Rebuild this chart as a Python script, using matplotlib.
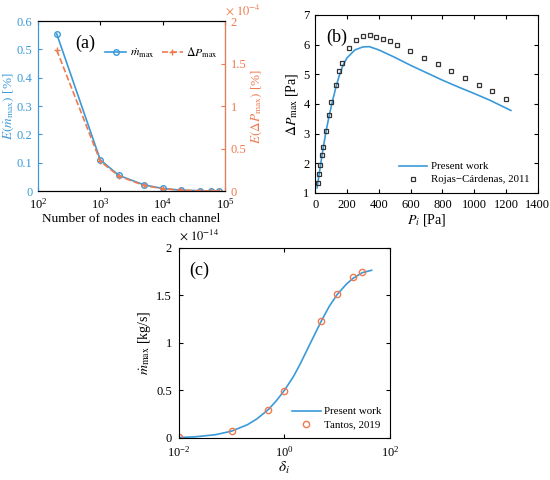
import matplotlib
matplotlib.use('Agg')
import matplotlib.pyplot as plt
from matplotlib.ticker import FixedLocator, NullLocator

plt.rcParams['font.family'] = ['Liberation Serif', 'DejaVu Serif']
plt.rcParams['mathtext.fontset'] = 'stix'
plt.rcParams['xtick.direction'] = 'in'
plt.rcParams['ytick.direction'] = 'in'
plt.rcParams['font.size'] = 9

BLUE = '#3A9AD9'
ORANGE = '#EF7A4F'

# (a) grid independence
nodes = [200, 1000, 2000, 5000, 10000, 20000, 40000, 60000, 80000]
err_mdot = [0.555, 0.11, 0.055, 0.022, 0.009, 0.003, 0.001, 0.0005, 0.0003]
err_dp = [1.66, 0.35, 0.175, 0.066, 0.027, 0.01, 0.003, 0.0015, 0.001]  # x 1e-4

# (b) max pressure difference vs inlet pressure
p_line = [12, 20, 30, 40, 50, 70, 90, 110, 130, 150, 175, 200, 250, 300, 340,
          400, 500, 600, 700, 800, 900, 1000, 1100, 1230]
dp_line = [1.17, 1.45, 1.8, 2.15, 2.5, 3.12, 3.65, 4.12, 4.55, 4.93, 5.3, 5.55,
           5.82, 5.92, 5.93, 5.82, 5.57, 5.3, 5.05, 4.8, 4.57, 4.35, 4.12, 3.78]
p_rojas = [17, 23, 33, 41, 52, 68, 85, 101, 128, 153, 171, 211, 254, 300, 343,
           384, 426, 469, 512, 597, 686, 773, 855, 942, 1027, 1113, 1198]
dp_rojas = [1.34, 1.63, 1.95, 2.27, 2.56, 3.1, 3.62, 4.07, 4.65, 5.12, 5.37, 5.88,
            6.15, 6.29, 6.32, 6.27, 6.19, 6.11, 5.99, 5.77, 5.55, 5.33, 5.11, 4.88,
            4.65, 4.42, 4.18]

# (c) max mass flow vs rarefaction
delta_line = [0.01, 0.02, 0.05, 0.1, 0.2, 0.3, 0.5, 0.7, 1, 1.5, 2, 3, 5, 7, 10,
              15, 20, 30, 45]
mdot_line = [0.005, 0.012, 0.035, 0.072, 0.14, 0.2, 0.3, 0.39, 0.5, 0.65, 0.78,
             0.98, 1.23, 1.38, 1.51, 1.62, 1.68, 1.74, 1.765]  # x 1e-14
delta_tantos = [0.01, 0.1, 0.5, 1, 5, 10, 20, 30]
mdot_tantos = [0.01, 0.077, 0.29, 0.495, 1.235, 1.51, 1.69, 1.75]

fig = plt.figure(figsize=(5.5, 4.8), dpi=100)

# ---- panel (a)
ax = fig.add_axes([0.069, 0.602, 0.34, 0.354])
axr = ax.twinx()
l1, = ax.plot(nodes, err_mdot, '-o', color=BLUE, lw=1.2, ms=4, mfc='none', mew=1)
l2, = axr.plot(nodes, err_dp, '--+', color=ORANGE, lw=1.2, ms=5, mew=1)
ax.set_xscale('log')
ax.set_xlim(1e2, 1e5)
ax.xaxis.set_minor_locator(NullLocator())
ax.set_ylim(0, 0.6)
ax.set_yticks([0, 0.1, 0.2, 0.3, 0.4, 0.5, 0.6])
ax.set_yticklabels(['0', '0.1', '0.2', '0.3', '0.4', '0.5', '0.6'])
axr.set_ylim(0, 2)
axr.set_yticks([0, 0.5, 1, 1.5, 2])
axr.set_yticklabels(['0', '0.5', '1', '1.5', '2'])
ax.tick_params(axis='y', colors=BLUE, length=3, pad=4)
ax.tick_params(axis='x', length=3, top=True, pad=4)
axr.tick_params(axis='y', colors=ORANGE, length=3, pad=4)
ax.spines['left'].set_color(BLUE)
axr.spines['left'].set_color(BLUE)
axr.spines['right'].set_color(ORANGE)
ax.set_xlabel('Number of nodes in each channel', fontsize=9.5, labelpad=1)
ax.set_ylabel(r'$E(\dot{m}_{\mathrm{max}})$ [%]', color=BLUE, fontsize=9.5, labelpad=0.5)
axr.set_ylabel(r'$E(\Delta P_{\mathrm{max}})$ [%]', color=ORANGE, fontsize=9.5, labelpad=2)
axr.text(1.0, 1.02, r'$\times\ 10^{-4}$', transform=axr.transAxes, color=ORANGE,
         fontsize=9, ha='left', va='bottom')
ax.text(0.2, 0.84, '(a)', transform=ax.transAxes, fontsize=13)
ax.legend([l1, l2], [r'$\dot{m}_{\mathrm{max}}$', r'$\Delta P_{\mathrm{max}}$'],
          loc='upper right', bbox_to_anchor=(1.02, 0.92), ncol=2, frameon=False,
          fontsize=8.5, handlelength=1.8, columnspacing=0.6, handletextpad=0.3)

# ---- panel (b)
bx = fig.add_axes([0.573, 0.598, 0.405, 0.371])
bx.plot(p_line, dp_line, '-', color=BLUE, lw=1.2, label='Present work')
bx.plot(p_rojas, dp_rojas, 's', color='#333333', ms=3.5, mfc='none', mew=0.9,
        label='Rojas\u2212Cárdenas, 2011')
bx.set_xlim(0, 1400)
bx.set_ylim(1, 7)
bx.set_xticks(range(0, 1401, 200))
bx.set_yticks(range(1, 8))
bx.tick_params(length=3, top=True, right=True, pad=4)
bx.set_xlabel(r'$P_i$ [Pa]', fontsize=10, labelpad=1)
bx.set_ylabel(r'$\Delta P_{\mathrm{max}}$ [Pa]', fontsize=10, labelpad=2)
bx.text(0.05, 0.85, '(b)', transform=bx.transAxes, fontsize=13)
bx.legend(loc='lower right', frameon=False, fontsize=7.8, handlelength=2.6,
          handletextpad=0.3, borderaxespad=0.4, labelspacing=0.3)

# ---- panel (c)
cx = fig.add_axes([0.325, 0.0875, 0.384, 0.396])
cx.plot(delta_line, mdot_line, '-', color=BLUE, lw=1.2, label='Present work')
cx.plot(delta_tantos, mdot_tantos, 'o', color=ORANGE, ms=4.5, mfc='none', mew=1,
        label='Tantos, 2019')
cx.set_xscale('log')
cx.set_xlim(1e-2, 1e2)
cx.xaxis.set_major_locator(FixedLocator([1e-2, 1e0, 1e2]))
cx.xaxis.set_minor_locator(NullLocator())
cx.set_ylim(0, 2)
cx.set_yticks([0, 0.5, 1, 1.5, 2])
cx.set_yticklabels(['0', '0.5', '1', '1.5', '2'])
cx.tick_params(axis='y', length=3, right=True, pad=5)
cx.tick_params(axis='x', length=3, top=True, pad=5)
cx.set_xlabel(r'$\delta_i$', fontsize=11, labelpad=0)
cx.set_ylabel(r'$\dot{m}_{\mathrm{max}}$ [kg/s]', fontsize=10, labelpad=2)
cx.text(0.0, 1.03, r'$\times\ 10^{-14}$', transform=cx.transAxes, fontsize=9,
        ha='left', va='bottom')
cx.text(0.05, 0.86, '(c)', transform=cx.transAxes, fontsize=13)
cx.legend(loc='lower right', frameon=False, fontsize=7.8, handlelength=2.6,
          handletextpad=0.3, borderaxespad=0.4, labelspacing=0.3)

fig.savefig('out.png', dpi=100)
